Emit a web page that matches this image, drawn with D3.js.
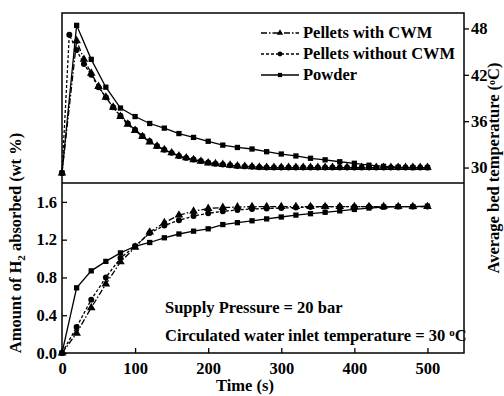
<!DOCTYPE html>
<html><head><meta charset="utf-8">
<script src="https://cdn.jsdelivr.net/npm/d3@7"></script>
<style>
body{margin:0;background:#fff;}
text{font-family:"Liberation Serif","Times New Roman",serif;font-weight:bold;fill:#000;}
</style></head>
<body><svg id="c" width="504" height="396"></svg>
<script>
// ---- data ----
const tempTimesWithCWM = [0,20,30,40,50,60,70,80,90,100,110,120,130,140,150,160,170,180,190,200,210,220,230,240,250,260,270,280,290,300,310,320,330,340,350,360,370,380,390,400,410,420,430,440,450,460,470,480,490,500];
const tempWithCWM = [29.3,46.4,44.0,42.2,40.5,39.1,37.8,36.6,35.6,34.8,34.0,33.3,32.75,32.3,31.9,31.5,31.25,31.0,30.8,30.6,30.5,30.4,30.3,30.2,30.15,30.1,30.05,30.0,30.0,30.0,30.0,30.0,30.0,30.0,30.0,30.0,30.0,30.0,30.0,30.0,30.0,30.0,30.0,30.0,30.0,30.0,30.0,30.0,30.0,30.0];
const tempTimesWithoutCWM = [0,10,20,30,40,50,60,70,80,90,100,110,120,130,140,150,160,170,180,190,200,210,220,230,240,250,260,270,280,290,300,310,320,330,340,350,360,370,380,390,400,410,420,430,440,450,460,470,480,490,500];
const tempWithoutCWM = [29.3,47.2,45.2,43.4,42.0,40.4,39.1,37.8,36.7,35.7,34.9,34.1,33.4,32.8,32.3,31.9,31.5,31.25,31.05,30.85,30.65,30.5,30.4,30.3,30.2,30.15,30.1,30.05,30.0,30.0,30.0,30.0,30.0,30.0,30.0,30.0,30.0,30.0,30.0,30.0,30.0,30.0,30.0,30.0,30.0,30.0,30.0,30.0,30.0,30.0,30.0];
const tempTimesPowder = [0,20,40,60,80,100,120,140,160,180,200,220,240,260,280,300,320,340,360,380,400,420,440,460,480,500];
const tempPowder = [29.3,48.4,44.0,40.4,37.7,36.6,35.7,35.1,34.4,33.9,33.4,32.9,32.6,32.4,32.05,31.75,31.5,31.2,31.0,30.75,30.55,30.3,30.15,30.05,30.0,30.0];

const h2Times = [0,20,40,60,80,100,120,140,160,180,200,220,240,260,280,300,320,340,360,380,400,420,440,460,480,500];
const h2WithCWM = [0,0.21,0.48,0.73,0.965,1.12,1.28,1.38,1.46,1.50,1.53,1.54,1.545,1.55,1.55,1.55,1.55,1.55,1.55,1.55,1.55,1.55,1.55,1.55,1.55,1.55];
const h2WithoutCWM = [0,0.275,0.565,0.80,1.005,1.13,1.27,1.35,1.405,1.45,1.48,1.50,1.515,1.525,1.53,1.535,1.54,1.545,1.55,1.55,1.55,1.55,1.55,1.55,1.55,1.55];
const h2Powder = [0,0.69,0.87,0.97,1.06,1.13,1.17,1.22,1.26,1.29,1.315,1.36,1.38,1.40,1.42,1.44,1.46,1.475,1.49,1.505,1.52,1.535,1.545,1.55,1.55,1.555];

const xTicks = [0,100,200,300,400,500];
const h2Ticks = [0.0,0.4,0.8,1.2,1.6];
const tempTicks = [30,36,42,48];
const seriesNames = ["Pellets with CWM","Pellets without CWM","Powder"];

// ---- layout ----
const L=62, R=464, T=13, MID=183, B=353;
const FS = "16.5px";
const svg = d3.select("#c");
const x = d3.scaleLinear().domain([0,550]).range([L,R]);
const yT = d3.scaleLinear().domain([28,50]).range([MID,T]);
const yH = d3.scaleLinear().domain([0,1.8]).range([B,MID]);

const styles = [
  {dash:"6,2,1.5,2", marker:"triangle"},
  {dash:"3,2", marker:"circle"},
  {dash:null, marker:"square"}
];
function symType(st){ return st.marker==="triangle"? d3.symbolTriangle : st.marker==="circle"? d3.symbolCircle : d3.symbolSquare; }
function drawSeries(times, vals, ys, st){
  const pts = times.map((t,i)=>[t,vals[i]]);
  svg.append("path").datum(pts)
    .attr("d", d3.line().x(d=>x(d[0])).y(d=>ys(d[1])))
    .attr("fill","none").attr("stroke","#000").attr("stroke-width",1.3)
    .attr("stroke-dasharray", st.dash);
  const size = st.marker==="triangle"? 32 : st.marker==="circle"? 28 : 28;
  svg.append("g").selectAll("path").data(pts).join("path")
    .attr("d", d3.symbol().type(symType(st)).size(size))
    .attr("transform", d=>`translate(${x(d[0])},${ys(d[1])})`)
    .attr("fill","#000");
}
drawSeries(tempTimesPowder, tempPowder, yT, styles[2]);
drawSeries(tempTimesWithoutCWM, tempWithoutCWM, yT, styles[1]);
drawSeries(tempTimesWithCWM, tempWithCWM, yT, styles[0]);
drawSeries(h2Times, h2Powder, yH, styles[2]);
drawSeries(h2Times, h2WithoutCWM, yH, styles[1]);
drawSeries(h2Times, h2WithCWM, yH, styles[0]);

// frame
svg.append("rect").attr("x",L).attr("y",T).attr("width",R-L).attr("height",B-T)
  .attr("fill","none").attr("stroke","#000").attr("stroke-width",1.5);
svg.append("line").attr("x1",L).attr("x2",R).attr("y1",MID).attr("y2",MID)
  .attr("stroke","#000").attr("stroke-width",1.5);

// bottom x axis
const gx = svg.append("g").attr("transform",`translate(0,${B})`)
  .call(d3.axisBottom(x).tickValues(xTicks).tickSize(-5).tickPadding(9).tickFormat(d3.format("d")));
gx.select(".domain").remove();
gx.selectAll("line").attr("stroke-width",1.3);
gx.selectAll("text").style("font-size",FS);

// left axis (H2)
const gy = svg.append("g").attr("transform",`translate(${L},0)`)
  .call(d3.axisLeft(yH).tickValues(h2Ticks).tickSize(-5).tickPadding(5).tickFormat(d3.format(".1f")));
gy.select(".domain").remove();
gy.selectAll("line").attr("stroke-width",1.3);
gy.selectAll("text").style("font-size",FS);

// right axis (temperature)
const gr = svg.append("g").attr("transform",`translate(${R},0)`)
  .call(d3.axisRight(yT).tickValues(tempTicks).tickSize(5).tickPadding(2));
gr.select(".domain").remove();
gr.selectAll("line").attr("stroke-width",1.3);
gr.selectAll("text").style("font-size",FS);

// axis titles
svg.append("text").attr("x",245).attr("y",391).attr("text-anchor","middle")
  .style("font-size",FS).text("Time (s)");
const yl = svg.append("text").attr("transform","translate(21,243) rotate(-90)")
  .attr("text-anchor","middle").style("font-size",FS);
yl.append("tspan").text("Amount of H");
yl.append("tspan").attr("dy",4).style("font-size","11px").text("2");
yl.append("tspan").attr("dy",-4).text(" absorbed (wt %)");
const yr = svg.append("text").attr("transform","translate(499,168) rotate(-90)")
  .attr("text-anchor","middle").style("font-size",FS);
yr.append("tspan").text("Average bed temperature (");
yr.append("tspan").attr("dy",-4).style("font-size","10px").text("o");
yr.append("tspan").attr("dy",4).text("C)");

// legend
const legY = [33,54,75];
seriesNames.forEach((n,i)=>{
  const st = styles[i];
  svg.append("line").attr("x1",261).attr("x2",299).attr("y1",legY[i]).attr("y2",legY[i])
    .attr("stroke","#000").attr("stroke-width",1.3).attr("stroke-dasharray",st.dash);
  svg.append("path").attr("d",d3.symbol().type(symType(st)).size(18))
    .attr("transform",`translate(280,${legY[i]})`).attr("fill","#000");
  svg.append("text").attr("x",303).attr("y",legY[i]+5).style("font-size",FS).text(n);
});

// annotations
svg.append("text").attr("x",165).attr("y",313).style("font-size",FS).text("Supply Pressure = 20 bar");
const an = svg.append("text").attr("x",165).attr("y",341).style("font-size",FS);
an.append("tspan").text("Circulated water inlet temperature = 30 ");
an.append("tspan").attr("dy",-5).style("font-size","11px").text("o");
an.append("tspan").attr("dy",5).text("C");
</script></body></html>
